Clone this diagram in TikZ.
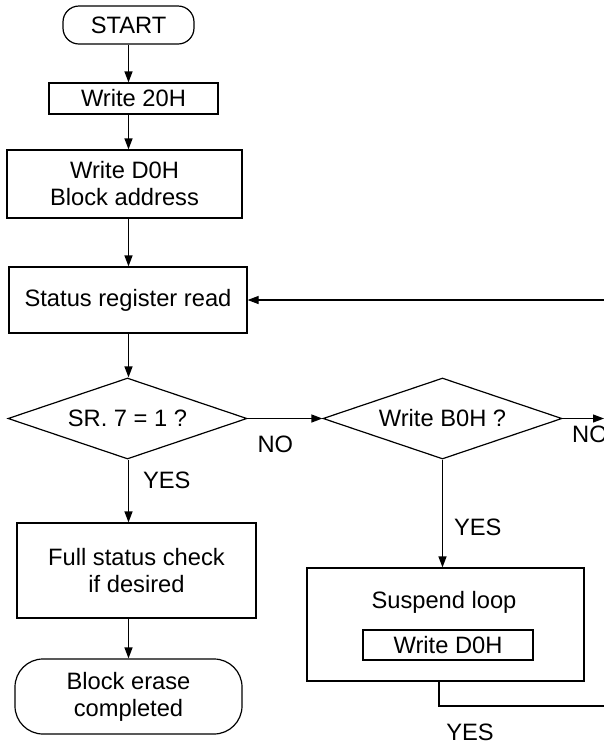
\documentclass[tikz,border=0pt]{standalone}
\usepackage{fontspec}
\setmainfont{Liberation Sans}
\usetikzlibrary{shapes.geometric,arrows.meta}

\begin{document}
\begin{tikzpicture}[x=1pt, y=-1pt, line width=1.2pt,
  font=\fontsize{23.7pt}{27pt}\selectfont,
  box/.style={draw, rectangle, inner sep=0pt, align=center},
  term/.style={box, rounded corners=#1},
  test/.style={draw, diamond, aspect=2.95, inner sep=0pt, minimum width=239pt, minimum height=81pt},
  lbl/.style={inner sep=0pt},
  arr/.style={-{Triangle[length=11pt,width=8pt]}}]
  \useasboundingbox (0,0) rectangle (604,748);
  \clip (0,0) rectangle (604,748);

  % main column
  \node[term=16pt, minimum width=131pt, minimum height=38pt] (start) at (128.5,25) {START};
  \node[box, minimum width=169pt, minimum height=31pt] (w20) at (133.5,98.5) {Write 20H};
  \node[box, minimum width=235pt, minimum height=68pt] (wd0) at (124.5,184) {Write D0H\\Block address};
  \node[box, minimum width=238pt, minimum height=66pt] (srr) at (128,300) {Status register read};
  \node[test] (sr7) at (127.5,418.5) {SR. 7 = 1 ?};
  \node[box, minimum width=239pt, minimum height=95pt] (fsc) at (136.5,570.5) {Full status check\\if desired};
  \node[term=28pt, minimum width=227pt, minimum height=75pt] (bec) at (128.5,696.5) {Block erase\\completed};

  % suspend branch
  \node[test] (wb0) at (442.5,418.5) {Write B0H ?};
  \node[box, minimum width=277pt, minimum height=113pt] (sb) at (445.5,624.5) {};
  \node (sbl) at (444,602) {Suspend loop};
  \node[box, minimum width=170pt, minimum height=30pt] (sbw) at (448,645) {Write D0H};

  \coordinate (loopin) at (604,300);
  \coordinate (noout) at (604,418.5);
  \coordinate (loopout) at (604,706);

  \foreach \a/\b in {start/w20, w20/wd0, wd0/srr, srr/sr7, fsc/bec}
    \draw[arr] (\a.south -| start) -- (\b.north -| start);
  \draw[arr] (sr7.south -| start) -- node[lbl, pos=.33, right=14pt] {YES} (fsc.north -| start);
  \draw[arr] (sr7.east) -- node[lbl, pos=.37, below=17pt] {NO} (wb0.west);
  \draw[arr] (wb0.east) -- node[lbl, pos=.66, below=6.5pt] {NO} (noout);
  \draw[arr] (wb0.south) -- node[lbl, pos=.63, right=11pt] {YES} (wb0.south |- sb.north);
  \draw[arr] (loopin) -- (srr.east);
  \draw ([xshift=-6.5pt]sb.south) |- node[lbl, pos=.594, below=17.5pt] {YES} (loopout);
\end{tikzpicture}
\end{document}
